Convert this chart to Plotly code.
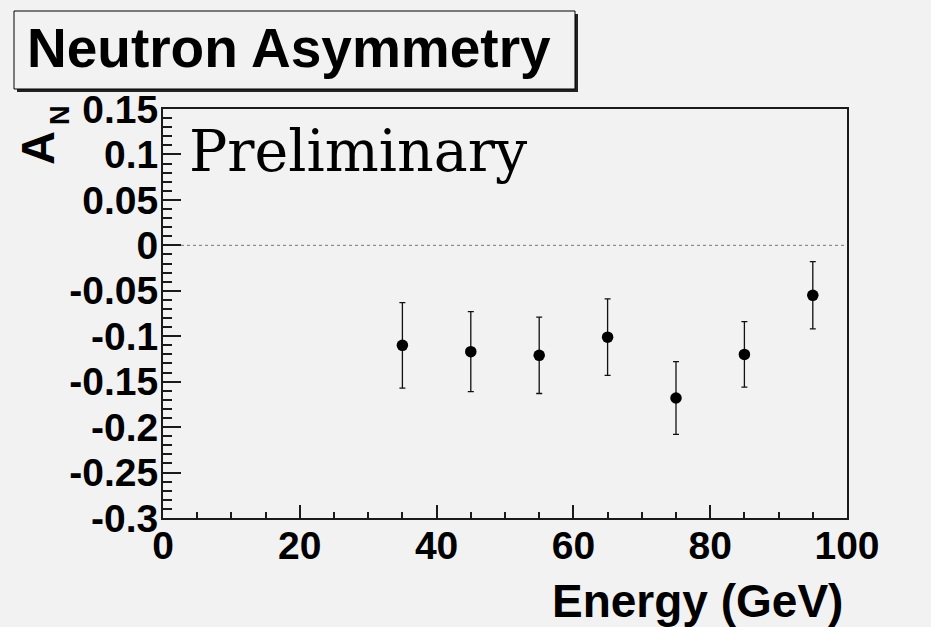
import plotly.graph_objects as go

# ---- data ----
energy = [35, 45, 55, 65, 75, 85, 95]
asym = [-0.110, -0.117, -0.121, -0.101, -0.168, -0.120, -0.055]
asym_err = [0.047, 0.044, 0.042, 0.042, 0.040, 0.036, 0.037]

x_tickvals = [0, 20, 40, 60, 80, 100]
x_ticktext = ["0", "20", "40", "60", "80", "100"]
y_tickvals = [0.15, 0.1, 0.05, 0, -0.05, -0.1, -0.15, -0.2, -0.25, -0.3]
y_ticktext = ["0.15", "0.1", "0.05", "0", "-0.05", "-0.1", "-0.15", "-0.2", "-0.25", "-0.3"]

W, H = 931, 627
L, R, T, B = 163, 84, 109, 109
PW, PH = W - L - R, H - T - B
BG = "#f2f2f2"
FONT = "Liberation Sans, Arial, sans-serif"


def px(x):
    return (x - L) / PW


def py(y):
    return (H - B - y) / PH


fig = go.Figure()
fig.add_trace(go.Scatter(
    x=energy, y=asym, mode="markers",
    marker=dict(color="black", size=11.5, symbol="circle"),
    error_y=dict(type="data", array=asym_err, visible=True,
                 color="#111111", thickness=1.3, width=3),
    showlegend=False,
))

fig.add_shape(type="line", xref="x", yref="y", x0=0, x1=100, y0=0, y1=0,
              line=dict(color="#777777", width=1, dash="dot"), layer="below")

# title box with shadow
fig.add_shape(type="rect", xref="paper", yref="paper",
              x0=px(17), x1=px(578), y0=py(92), y1=py(14),
              fillcolor="#222222", line=dict(width=0))
fig.add_shape(type="rect", xref="paper", yref="paper",
              x0=px(14), x1=px(575), y0=py(89), y1=py(11),
              fillcolor=BG, line=dict(color="black", width=1))

fig.add_annotation(text="Neutron Asymmetry", xref="paper", yref="paper",
                   x=px(289), y=py(48), xanchor="center", yanchor="middle",
                   showarrow=False,
                   font=dict(family=FONT, size=55, color="black", weight="bold"))

fig.add_annotation(text="Preliminary", xref="paper", yref="paper",
                   x=px(187), y=py(151), xanchor="left", yanchor="middle",
                   showarrow=False,
                   font=dict(family="DejaVu Serif, serif", size=57, color="black"))

fig.add_annotation(text="Energy (GeV)", xref="paper", yref="paper",
                   x=px(845), y=py(601), xanchor="right", yanchor="middle",
                   showarrow=False,
                   font=dict(family=FONT, size=46, color="black", weight="bold"))

fig.add_annotation(text="A", xref="paper", yref="paper", textangle=-90,
                   x=px(37), y=py(148), xanchor="center", yanchor="middle",
                   showarrow=False,
                   font=dict(family=FONT, size=47, color="black", weight="bold"))
fig.add_annotation(text="N", xref="paper", yref="paper", textangle=-90,
                   x=px(60), y=py(115), xanchor="center", yanchor="middle",
                   showarrow=False,
                   font=dict(family=FONT, size=27, color="black", weight="bold"))

fig.update_xaxes(
    range=[0, 100], showgrid=False, zeroline=False,
    showline=True, linecolor="#1a1a1a", linewidth=2, mirror=True,
    ticks="inside", ticklen=13, tickwidth=1.5, tickcolor="#1a1a1a",
    tickvals=x_tickvals, ticktext=x_ticktext,
    minor=dict(ticks="inside", ticklen=6, dtick=5, tick0=0, tickwidth=1.5,
               tickcolor="#1a1a1a", showgrid=False),
    tickfont=dict(family=FONT, size=39, color="black", weight="bold"),
    ticklabelstandoff=-8,
)
fig.update_yaxes(
    range=[-0.3, 0.15], showgrid=False, zeroline=False,
    showline=True, linecolor="#1a1a1a", linewidth=2, mirror=True,
    ticks="inside", ticklen=18, tickwidth=1.5, tickcolor="#1a1a1a",
    tickvals=y_tickvals, ticktext=y_ticktext,
    minor=dict(ticks="inside", ticklen=9, dtick=0.01, tick0=0, tickwidth=1.5,
               tickcolor="#1a1a1a", showgrid=False),
    tickfont=dict(family=FONT, size=39, color="black", weight="bold"),
    ticklabelstandoff=-5,
)

fig.update_layout(
    width=W, height=H, autosize=False,
    margin=dict(l=L, r=R, t=T, b=B),
    paper_bgcolor=BG, plot_bgcolor=BG,
)

fig.write_html("out.html")
